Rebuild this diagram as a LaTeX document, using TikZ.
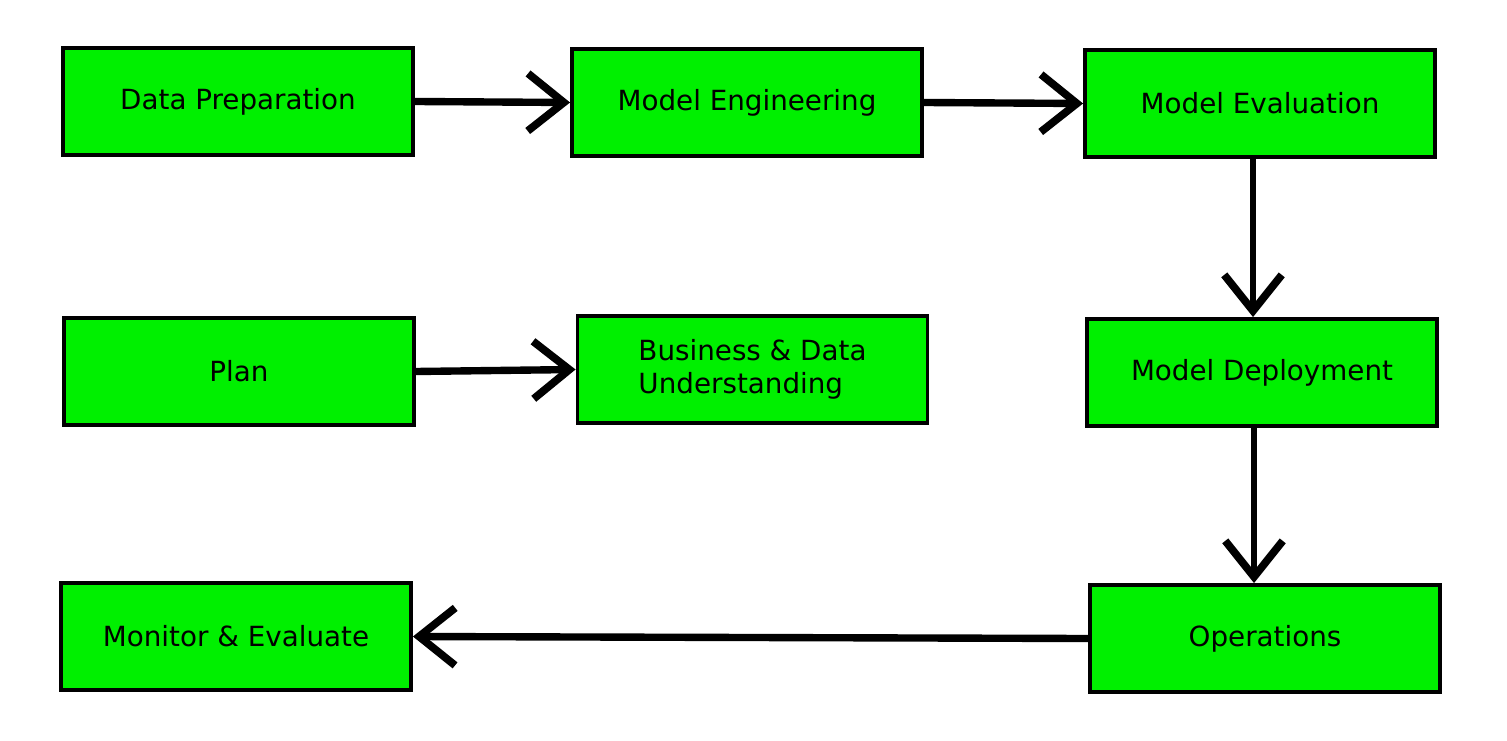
\documentclass[tikz,border=0pt]{standalone}
\usepackage{fontspec}
\setmainfont{DejaVu Sans}
\usetikzlibrary{arrows.meta, positioning}

\definecolor{boxgreen}{RGB}{0,240,0}

\begin{document}
\begin{tikzpicture}[
  step_box/.style = {draw, fill=boxgreen, line width=2.2pt, minimum width=7cm,
                     minimum height=2.14cm, align=left, inner sep=2pt,
                     font=\fontsize{15.8}{18.8}\selectfont},
  arrow/.style = {line width=4.2pt,
                  -{Straight Barb[length=0.72cm, width=1.15cm, line width=4.4pt]}},
  varrow/.style = {arrow, line width=3pt}
]
\useasboundingbox (0,0) rectangle (30.14,14.8);

%--------------------------------------------------
% Stages (boxes)
%--------------------------------------------------
\node[step_box] (prep)    at (4.76,12.77) {Data Preparation};
\node[step_box] (eng)     at (14.94,12.75) {Model Engineering};
\node[step_box] (evalm)   at (25.20,12.73) {Model Evaluation};

\node[step_box] (plan)    at (4.78,7.37) {Plan};
\node[step_box] (biz)     at (15.05,7.41) {Business \& Data\\Understanding};
\node[step_box] (deploy)  at (25.24,7.35) {Model Deployment};

\node[step_box] (monitor) at (4.72,2.07) {Monitor \& Evaluate};
\node[step_box] (ops)     at (25.30,2.03) {Operations};

%--------------------------------------------------
% Connections
%--------------------------------------------------
\draw[arrow] (prep.east) -- (eng.west);
\draw[arrow] (eng.east) -- (evalm.west);
\draw[arrow] (plan.east) -- (biz.west);

\draw[varrow] ([xshift=-0.14cm]evalm.south) -- ([xshift=-0.14cm]evalm.south |- deploy.north);
\draw[varrow] ([xshift=-0.16cm]deploy.south) -- ([xshift=-0.16cm]deploy.south |- ops.north);

\draw[arrow] (ops.west) -- (monitor.east);

\end{tikzpicture}
\end{document}
